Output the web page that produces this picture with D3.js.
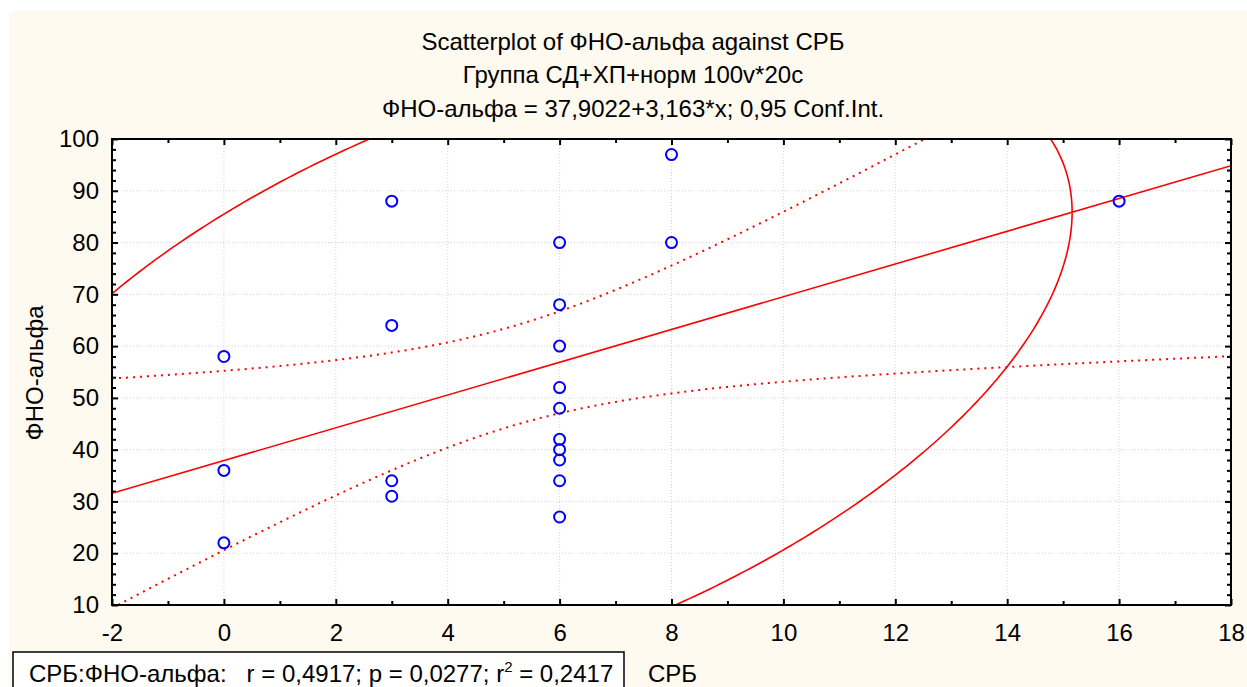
<!DOCTYPE html>
<html lang="ru">
<head>
<meta charset="utf-8">
<title>Scatterplot of ФНО-альфа against СРБ</title>
<script src="https://cdn.jsdelivr.net/npm/d3@7/dist/d3.min.js"></script>
<style>
  body { margin: 0; background: #fff; }
  text { font-family: "Liberation Sans", Arial, sans-serif; fill: #000; }
  .grid line { stroke: #d4d4d4; stroke-width: 1; stroke-dasharray: 1,2; }
  .frame { fill: #fff; stroke: none; }
  .border { fill: none; stroke: #000; stroke-width: 2; }
  .pt { fill: none; stroke: #0000ff; stroke-width: 2; }
  .fit { fill: none; stroke: #ff0000; stroke-width: 1.6; }
  .band { fill: none; stroke: #ff0000; stroke-width: 2; stroke-dasharray: 2,5; }
</style>
</head>
<body>
<svg width="1247" height="687"></svg>
<script>
// data (x = СРБ, y = ФНО-альфа)
var srb = [0, 0, 0, 3, 3, 3, 3, 6, 6, 6, 6, 6, 6, 6, 6, 6, 6, 8, 8, 16];
var fno = [58, 36, 22, 88, 64, 34, 31, 80, 68, 60, 52, 48, 42, 40, 38, 34, 27, 97, 80, 88];

var xTicks = [-2, 0, 2, 4, 6, 8, 10, 12, 14, 16, 18];
var yTicks = [10, 20, 30, 40, 50, 60, 70, 80, 90, 100];

var titleLines = ["Scatterplot of ФНО-альфа against СРБ",
                  "Группа СД+ХП+норм 100v*20c",
                  "ФНО-альфа = 37,9022+3,163*x; 0,95 Conf.Int."];
var intercept = 37.9022, slope = 3.163;
var tCrit = 2.101;   // t(0.975, 18)
var fCrit = 3.555;   // F(0.95; 2, 18)

var svg = d3.select("svg");
var W = 1247, H = 687;
var pL = 112, pR = 1231, pT = 139, pB = 605;

svg.append("rect").attr("x", 9).attr("y", 11).attr("width", W).attr("height", H)
   .attr("fill", "#fefaf0");

var x = d3.scaleLinear().domain([-2, 18]).range([pL, pR]);
var y = d3.scaleLinear().domain([10, 100]).range([pB, pT]);

// titles
svg.selectAll(".title").data(titleLines).enter().append("text")
   .attr("class", "title")
   .attr("x", 633)
   .attr("y", function(d, i) { return [50, 83, 117][i]; })
   .attr("text-anchor", "middle")
   .attr("font-size", "24px")
   .text(function(d) { return d; });

svg.append("rect").attr("class", "frame")
   .attr("x", pL).attr("y", pT).attr("width", pR - pL).attr("height", pB - pT);

// grid
var grid = svg.append("g").attr("class", "grid");
grid.selectAll(".gx").data(xTicks.slice(1, -1)).enter().append("line")
   .attr("x1", function(d) { return x(d); }).attr("x2", function(d) { return x(d); })
   .attr("y1", pT).attr("y2", pB);
grid.selectAll(".gy").data(yTicks.slice(1, -1)).enter().append("line")
   .attr("y1", function(d) { return y(d); }).attr("y2", function(d) { return y(d); })
   .attr("x1", pL).attr("x2", pR);

// axes with ticks pointing inward, on all four sides
var minorX = d3.range(-2, 18.01, 1);
var minorY = d3.range(10, 100.01, 2);
var gB = svg.append("g").attr("transform", "translate(0," + pB + ")")
   .call(d3.axisBottom(x).tickValues(minorX).tickSize(-4).tickPadding(14)
   .tickFormat(function(d) { return xTicks.indexOf(d) >= 0 ? d : ""; }));
var gT = svg.append("g").attr("transform", "translate(0," + pT + ")")
   .call(d3.axisTop(x).tickValues(minorX).tickSize(-4).tickFormat(""));
var gL = svg.append("g").attr("transform", "translate(" + pL + ",0)")
   .call(d3.axisLeft(y).tickValues(minorY).tickSize(-4).tickPadding(13)
   .tickFormat(function(d) { return yTicks.indexOf(d) >= 0 ? d : ""; }));
var gR = svg.append("g").attr("transform", "translate(" + pR + ",0)")
   .call(d3.axisRight(y).tickValues(minorY).tickSize(-4).tickFormat(""));
[gB, gT, gL, gR].forEach(function(g) {
  g.select(".domain").remove();
  g.selectAll(".tick line").attr("stroke", "#000").attr("stroke-width", 2);
  g.selectAll(".tick text").attr("font-size", "24px")
   .attr("font-family", "'Liberation Sans', Arial, sans-serif").attr("fill", "#000");
});
// longer major ticks
gB.selectAll(".tick line").filter(function(d) { return xTicks.indexOf(d) >= 0; }).attr("y2", -6);
gT.selectAll(".tick line").filter(function(d) { return xTicks.indexOf(d) >= 0; }).attr("y2", 6);
gL.selectAll(".tick line").filter(function(d) { return yTicks.indexOf(d) >= 0; }).attr("x2", 6);
gR.selectAll(".tick line").filter(function(d) { return yTicks.indexOf(d) >= 0; }).attr("x2", -6);
gB.selectAll(".tick text").attr("y", 36).attr("dy", null);

// clip region for the fitted curves
svg.append("clipPath").attr("id", "clip").append("rect")
   .attr("x", pL).attr("y", pT).attr("width", pR - pL).attr("height", pB - pT);
var plot = svg.append("g").attr("clip-path", "url(#clip)");

// statistics from the points
var n = srb.length;
var mx = d3.mean(srb), my = d3.mean(fno);
var sxx = d3.sum(srb, function(v) { return (v - mx) * (v - mx); });
var syy = d3.sum(fno, function(v) { return (v - my) * (v - my); });
var sxy = d3.sum(srb, function(v, i) { return (v - mx) * (fno[i] - my); });
var r = sxy / Math.sqrt(sxx * syy);
var sse = d3.sum(srb, function(v, i) { var e = fno[i] - (intercept + slope * v); return e * e; });
var s = Math.sqrt(sse / (n - 2));

var xs = d3.range(-2, 18.001, 0.1);
var line = d3.line().x(function(d) { return x(d[0]); }).y(function(d) { return y(d[1]); });

plot.append("path").attr("class", "fit")
   .attr("d", line([[-2, intercept + slope * -2], [18, intercept + slope * 18]]));

[1, -1].forEach(function(sign) {
  var pts = xs.map(function(v) {
    var se = s * Math.sqrt(1 / n + (v - mx) * (v - mx) / sxx);
    return [v, intercept + slope * v + sign * tCrit * se];
  });
  plot.append("path").attr("class", "band").attr("d", line(pts));
});

// 0.95 prediction ellipse
var c = Math.sqrt(2 * (n + 1) * (n - 1) / (n * (n - 2)) * fCrit);
var sdx = Math.sqrt(sxx / (n - 1)), sdy = Math.sqrt(syy / (n - 1));
var ell = d3.range(0, 2 * Math.PI + 0.001, 0.01).map(function(t) {
  return [mx + c * sdx * Math.cos(t),
          my + c * sdy * (r * Math.cos(t) + Math.sqrt(1 - r * r) * Math.sin(t))];
});
plot.append("path").attr("class", "fit").attr("d", line(ell));

// points
svg.selectAll(".pt").data(srb).enter().append("circle")
   .attr("class", "pt")
   .attr("cx", function(d) { return x(d); })
   .attr("cy", function(d, i) { return y(fno[i]); })
   .attr("r", 5.5);

svg.append("rect").attr("class", "border")
   .attr("x", pL).attr("y", pT).attr("width", pR - pL).attr("height", pB - pT);

// axis titles
svg.append("text")
   .attr("transform", "translate(43,373) rotate(-90)")
   .attr("text-anchor", "middle")
   .attr("font-size", "24px")
   .text("ФНО-альфа");
svg.append("text").attr("x", 648).attr("y", 682).attr("font-size", "24px").text("СРБ");

// statistics box
svg.append("rect").attr("x", 13).attr("y", 652).attr("width", 611).attr("height", 50)
   .attr("fill", "#fff").attr("stroke", "#000").attr("stroke-width", 1.5);
var st = svg.append("text").attr("x", 29).attr("y", 682).attr("font-size", "24px")
   .attr("xml:space", "preserve");
st.append("tspan").text("СРБ:ФНО-альфа:   r = 0,4917; p = 0,0277; r");
st.append("tspan").attr("font-size", "15px").attr("dy", -10).text("2");
st.append("tspan").attr("dy", 10).text(" = 0,2417");
</script>
</body>
</html>
